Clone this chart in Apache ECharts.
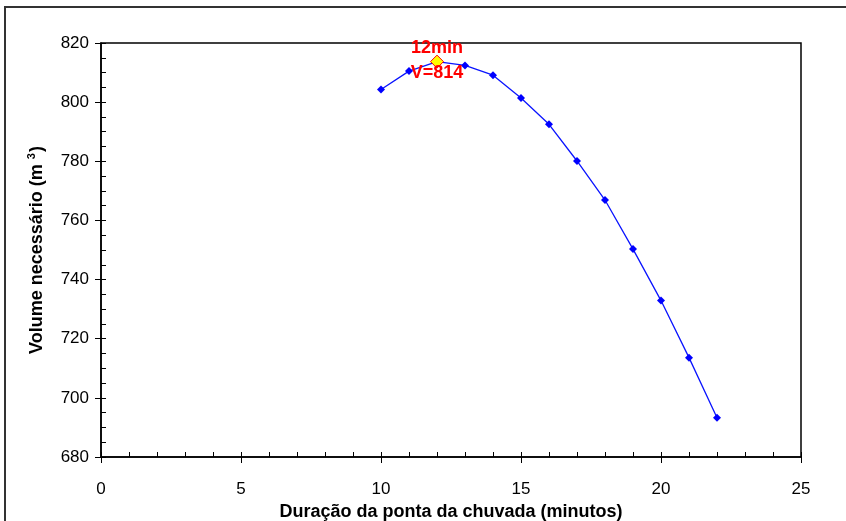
<!DOCTYPE html>
<html>
<head>
<meta charset="utf-8">
<script src="https://cdn.jsdelivr.net/npm/echarts@6/dist/echarts.min.js"></script>
<style>
html,body{margin:0;padding:0;background:#fff;}
#c{width:846px;height:521px;}
</style>
</head>
<body>
<div id="c"></div>
<script>
const durations = [10, 11, 12, 13, 14, 15, 16, 17, 18, 19, 20, 21, 22];
const volumes = [804.3, 810.5, 813.7, 812.4, 809.1, 801.4, 792.5, 780.1, 766.9, 750.3, 732.9, 713.6, 693.3];
const xTicks = [0, 5, 10, 15, 20, 25];
const yTicks = [680, 700, 720, 740, 760, 780, 800, 820];
const xTitle = 'Duração da ponta da chuvada (minutos)';
const yTitle = 'Volume necessário (m';

let maxIdx = 0;
volumes.forEach((v, i) => { if (v > volumes[maxIdx]) maxIdx = i; });
const maxPoint = [durations[maxIdx], volumes[maxIdx]];

const chart = echarts.init(document.getElementById('c'));
const font = 'Liberation Sans, Arial, sans-serif';
const xMin = xTicks[0], xMax = xTicks[xTicks.length - 1];
const yMin = yTicks[0], yMax = yTicks[yTicks.length - 1];

const baseX = {
  type: 'value', min: xMin, max: xMax, interval: 5,
  splitLine: { show: false }
};
const baseY = {
  type: 'value', min: yMin, max: yMax, interval: 20,
  splitLine: { show: false }
};

chart.setOption({
  animation: false,
  backgroundColor: '#fff',
  graphic: [{
    type: 'rect', shape: { x: 5, y: 7, width: 860, height: 540 },
    style: { fill: 'none', stroke: '#333', lineWidth: 2 }, silent: true
  }],
  grid: {
    left: 101, right: 45, top: 43, bottom: 64,
    outerBoundsMode: 'none', containLabel: false,
    show: true, borderColor: '#000', borderWidth: 1.5, backgroundColor: 'transparent'
  },
  xAxis: [
    Object.assign({}, baseX, {
      name: xTitle, nameLocation: 'middle', nameGap: 45,
      nameTextStyle: { fontFamily: font, fontSize: 18, fontWeight: 'bold', color: '#000' },
      axisLine: { show: true, lineStyle: { color: '#000', width: 1.5 } },
      axisTick: { show: true, inside: false, length: 6, lineStyle: { color: '#000', width: 1 } },
      axisLabel: { fontFamily: font, fontSize: 17, color: '#000', margin: 24 }
    }),
    Object.assign({}, baseX, {
      interval: 1, position: 'bottom',
      axisLine: { show: false },
      axisTick: { show: true, inside: true, length: 5, lineStyle: { color: '#000', width: 1 } },
      axisLabel: { show: false }
    })
  ],
  yAxis: [
    Object.assign({}, baseY, {
      name: '{t|' + yTitle + '}{s|3}{t|)}', nameLocation: 'middle', nameGap: 53,
      nameTextStyle: {
        rich: {
          t: { fontFamily: font, fontSize: 18, fontWeight: 'bold', color: '#000' },
          s: { fontFamily: font, fontSize: 11, fontWeight: 'bold', color: '#000', padding: [0, 1, 11, 5] }
        }
      },
      axisLine: { show: true, lineStyle: { color: '#000', width: 1.5 } },
      axisTick: { show: true, inside: false, length: 6, lineStyle: { color: '#000', width: 1 } },
      axisLabel: { fontFamily: font, fontSize: 17, color: '#000', margin: 12 }
    }),
    Object.assign({}, baseY, {
      interval: 5, position: 'left',
      axisLine: { show: false },
      axisTick: { show: true, inside: true, length: 5, lineStyle: { color: '#000', width: 1 } },
      axisLabel: { show: false }
    })
  ],
  series: [
    {
      type: 'line',
      data: durations.map((d, i) => [d, volumes[i]]),
      symbol: 'diamond', symbolSize: 8,
      lineStyle: { color: '#0a14ff', width: 1.3 },
      itemStyle: { color: '#0000ff', opacity: 1 },
      z: 3
    },
    {
      type: 'scatter',
      data: [maxPoint],
      symbol: 'diamond', symbolSize: 13,
      itemStyle: { color: '#ffff00', borderColor: '#ff0000', borderWidth: 1, opacity: 1 },
      label: {
        show: true, position: 'inside', offset: [0, -14],
        formatter: () => maxPoint[0] + 'min',
        fontFamily: font, fontSize: 18, fontWeight: 'bold', color: '#ff0000', opacity: 1
      },
      z: 5
    },
    {
      type: 'scatter',
      data: [maxPoint],
      symbol: 'circle', symbolSize: 1,
      itemStyle: { color: 'rgba(0,0,0,0)' },
      label: {
        show: true, position: 'inside', offset: [0, 11],
        formatter: () => 'V=' + Math.round(maxPoint[1]),
        fontFamily: font, fontSize: 18, fontWeight: 'bold', color: '#ff0000', opacity: 1
      },
      z: 6
    }
  ]
});
</script>
</body>
</html>
